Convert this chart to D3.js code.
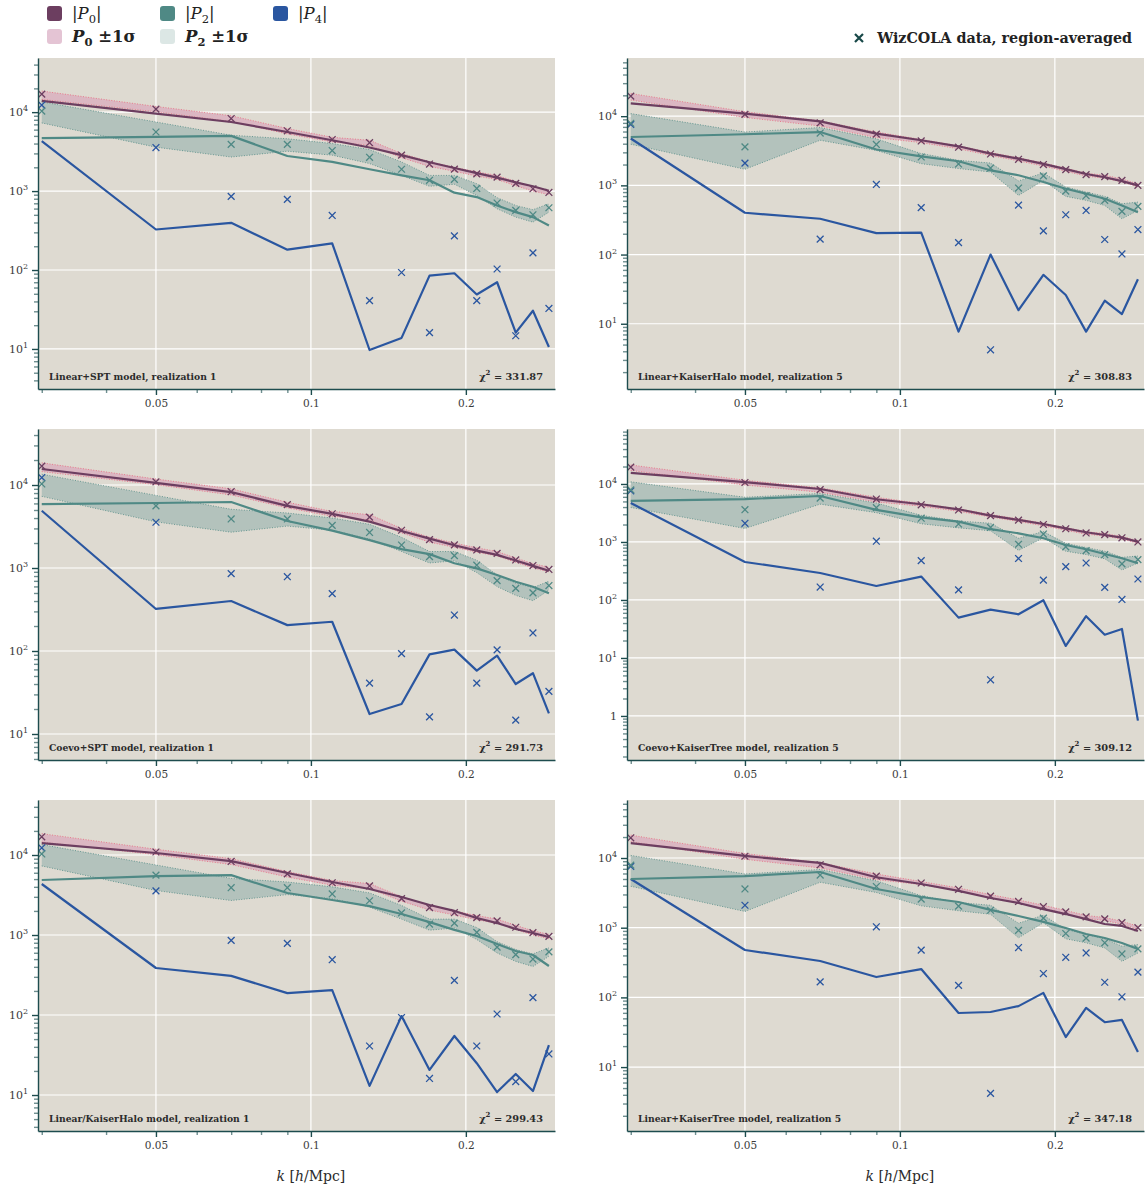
<!DOCTYPE html>
<html>
<head>
<meta charset="utf-8">
<script src="https://cdn.jsdelivr.net/npm/d3@7"></script>
<style>
  body { margin: 0; background: #ffffff; }
  svg { display: block; }
</style>
</head>
<body>
<svg id="chart" width="1148" height="1189"></svg>
<script>
// Wavenumber bins k [h/Mpc]
const kValues = [0.03, 0.05, 0.07, 0.09, 0.11, 0.13, 0.15, 0.17, 0.19, 0.21, 0.23, 0.25, 0.27, 0.29];

// WizCOLA region-averaged multipoles, realization 1
const r1P0 = [16900, 10900, 8300, 5800, 4500, 4100, 2850, 2200, 1900, 1650, 1500, 1250, 1070, 960];
const r1P2 = [10300, 5600, 3900, 3900, 3260, 2680, 1890, 1370, 1410, 1080, 705, 569, 501, 615];
const r1P4 = [12300, 3560, 857, 785, 491, 41, 93, 16.1, 271, 41, 103, 14.7, 165, 32.6];
const r1P0lo = [14500, 10100, 7600, 5300, 4200, 3800, 2650, 2050, 1780, 1550, 1400, 1170, 1000, 900];
const r1P0hi = [18500, 11800, 9000, 6200, 4800, 4400, 3000, 2350, 2000, 1750, 1580, 1320, 1130, 1020];
const r1P2lo = [7300, 3600, 2700, 3200, 2850, 2230, 1580, 1150, 1220, 880, 597, 468, 404, 541];
const r1P2hi = [13500, 7500, 5100, 4600, 4000, 3360, 2340, 1580, 1580, 1240, 825, 658, 581, 692];

// WizCOLA region-averaged multipoles, realization 5
const r5P0 = [19500, 10600, 8000, 5500, 4380, 3560, 2840, 2380, 2000, 1690, 1430, 1340, 1180, 1000];
const r5P2 = [7900, 3600, 5700, 3900, 2570, 2040, 1780, 914, 1370, 826, 709, 607, 420, 497];
const r5P4 = [7600, 2100, 167, 1030, 476, 149, 4.2, 519, 220, 376, 434, 165, 102, 230];
const r5P0lo = [17100, 9600, 7200, 4900, 4150, 3380, 2700, 2260, 1900, 1600, 1360, 1270, 1120, 950];
const r5P0hi = [21300, 11600, 8550, 5900, 4600, 3720, 2980, 2500, 2100, 1770, 1500, 1400, 1240, 1050];
const r5P2lo = [3930, 1710, 4490, 3200, 2060, 1750, 1560, 716, 1180, 693, 607, 513, 329, 434];
const r5P2hi = [10900, 5900, 6850, 4700, 2880, 2300, 2100, 1160, 1510, 946, 801, 693, 543, 573];

// Model multipoles, one set per model
const linSptP0 = [13900, 9600, 7500, 5600, 4400, 3560, 2850, 2320, 1960, 1690, 1480, 1290, 1150, 1010];
const linSptP2 = [4680, 4850, 5000, 2780, 2340, 1890, 1580, 1370, 955, 840, 658, 541, 468, 366];
const linSptP4 = [4300, 326, 396, 181, 218, 9.7, 13.8, 85, 91, 49, 70, 16.1, 30.5, 10.6];

const linKHaloP0 = [15300, 10900, 8400, 5600, 4490, 3670, 2880, 2430, 2040, 1720, 1460, 1310, 1150, 1000];
const linKHaloP2 = [5000, 5480, 5900, 3300, 2630, 2230, 1650, 1400, 1120, 895, 758, 641, 513, 410];
const linKHaloP4 = [4750, 402, 329, 204, 208, 7.7, 100, 15.7, 51, 26, 7.7, 21.5, 13.8, 44];

const coevoSptP0 = [15600, 10600, 8200, 5600, 4480, 3620, 2790, 2260, 1880, 1620, 1440, 1230, 1060, 927];
const coevoSptP2 = [5900, 6070, 6240, 3680, 2820, 2170, 1690, 1470, 1140, 991, 824, 684, 595, 495];
const coevoSptP4 = [4900, 321, 400, 205, 225, 17.4, 23, 91, 104, 58, 88, 40, 54, 17.7];

const coevoKTreeP0 = [15500, 10800, 8200, 5450, 4470, 3660, 2840, 2400, 2040, 1720, 1470, 1320, 1190, 1010];
const coevoKTreeP2 = [5100, 5500, 6200, 3570, 2660, 2240, 1660, 1410, 1160, 888, 748, 621, 523, 429];
const coevoKTreeP4 = [4700, 452, 292, 174, 253, 49.6, 68, 56.6, 99, 16.1, 52.4, 25.2, 31.6, 0.83];

const linSlashKHaloP0 = [14100, 10600, 8400, 5960, 4600, 3760, 2990, 2370, 2000, 1630, 1410, 1190, 1060, 944];
const linSlashKHaloP2 = [4870, 5460, 5600, 3350, 2740, 2300, 1830, 1450, 1160, 972, 773, 631, 562, 410];
const linSlashKHaloP4 = [4340, 387, 308, 188, 205, 13, 97, 20.6, 54.7, 25, 10.9, 18.3, 11.2, 42];

const linKTreeP0 = [16400, 10700, 8500, 5300, 4240, 3370, 2670, 2260, 1850, 1570, 1330, 1130, 1060, 897];
const linKTreeP2 = [5000, 5500, 6300, 3590, 2760, 2340, 1800, 1470, 1210, 991, 813, 712, 603, 494];
const linKTreeP4 = [5000, 479, 333, 196, 255, 59.7, 61.7, 75, 116, 27, 70.5, 44, 47.5, 16.5];

// Panel captions and goodness of fit
const panelTitles = [
  "Linear+SPT model, realization 1",
  "Linear+KaiserHalo model, realization 5",
  "Coevo+SPT model, realization 1",
  "Coevo+KaiserTree model, realization 5",
  "Linear/KaiserHalo model, realization 1",
  "Linear+KaiserTree model, realization 5"
];
const chiSquared = ["331.87", "308.83", "291.73", "309.12", "299.43", "347.18"];

// Axis ticks
const xTickValues = [0.05, 0.1, 0.2];
const xTickLabels = ["0.05", "0.1", "0.2"];
const xMinorTicks = [0.03, 0.04, 0.06, 0.07, 0.08, 0.09];

// ---------------------------------------------------------------------------
const COLORS = {
  bg: "#dedad1",
  p0: "#6c3e60",
  p2: "#4f8985",
  p4: "#2a56a0",
  p0Band: "#dbb7c2",
  p0BandEdge: "#e77b8c",
  p2Band: "#b3c2bc",
  p2BandEdge: "#4f8985",
  spine: "#1d4c4e",
  minorTick: "#6f8f90",
  tickText: "#3a3a3a",
  legendP0Band: "#e4c4d4",
  legendP2Band: "#dce7e5",
  dataMarker: "#184848"
};

const realizations = {
  r1: { p0: r1P0, p2: r1P2, p4: r1P4, p0lo: r1P0lo, p0hi: r1P0hi, p2lo: r1P2lo, p2hi: r1P2hi },
  r5: { p0: r5P0, p2: r5P2, p4: r5P4, p0lo: r5P0lo, p0hi: r5P0hi, p2lo: r5P2lo, p2hi: r5P2hi }
};

const panels = [
  { col: 0, row: 0, data: "r1", model: [linSptP0, linSptP2, linSptP4], yDomain: [3.11, 48500] },
  { col: 1, row: 0, data: "r5", model: [linKHaloP0, linKHaloP2, linKHaloP4], yDomain: [1.14, 69300] },
  { col: 0, row: 1, data: "r1", model: [coevoSptP0, coevoSptP2, coevoSptP4], yDomain: [4.86, 47300] },
  { col: 1, row: 1, data: "r5", model: [coevoKTreeP0, coevoKTreeP2, coevoKTreeP4], yDomain: [0.174, 88700] },
  { col: 0, row: 2, data: "r1", model: [linSlashKHaloP0, linSlashKHaloP2, linSlashKHaloP4], yDomain: [3.55, 48700] },
  { col: 1, row: 2, data: "r5", model: [linKTreeP0, linKTreeP2, linKTreeP4], yDomain: [1.21, 68000] }
];

const colX = [38, 627];
const rowY = [58, 429, 800];
const W = 517, H = 331;
const xDomain = [0.0295, 0.298];

const svg = d3.select("#chart");
const SERIF = "DejaVu Serif, serif";

const xMarker = s => `M${-s},${-s}L${s},${s}M${-s},${s}L${s},${-s}`;

panels.forEach((p, i) => {
  const d = realizations[p.data];
  const g = svg.append("g").attr("transform", `translate(${colX[p.col]},${rowY[p.row]})`);
  const x = d3.scaleLog().domain(xDomain).range([0, W]);
  const y = d3.scaleLog().domain(p.yDomain).range([H, 0]);

  const clipId = `clip${i}`;
  g.append("clipPath").attr("id", clipId).append("rect").attr("width", W).attr("height", H);

  g.append("rect").attr("width", W).attr("height", H).attr("fill", COLORS.bg);

  // decades inside the y range
  const lo = Math.log10(p.yDomain[0]), hi = Math.log10(p.yDomain[1]);
  const yMajors = d3.range(Math.ceil(lo), Math.floor(hi) + 1).map(n => Math.pow(10, n));
  const yMinors = [];
  for (let n = Math.floor(lo); n <= Math.floor(hi); n++) {
    for (let m = 2; m <= 9; m++) {
      const v = m * Math.pow(10, n);
      if (v >= p.yDomain[0] && v <= p.yDomain[1]) yMinors.push(v);
    }
  }

  // grid
  const grid = g.append("g");
  grid.selectAll("line.gx").data(xTickValues).join("line")
    .attr("x1", v => x(v)).attr("x2", v => x(v)).attr("y1", 0).attr("y2", H)
    .attr("stroke", "#ffffff").attr("stroke-width", 1.2);
  grid.selectAll("line.gy").data(yMajors).join("line")
    .attr("x1", 0).attr("x2", W).attr("y1", v => y(v)).attr("y2", v => y(v))
    .attr("stroke", "#ffffff").attr("stroke-width", 1.2);

  const plot = g.append("g").attr("clip-path", `url(#${clipId})`);

  const area = (loArr, hiArr) => d3.area()
    .x((_, j) => x(kValues[j]))
    .y0((_, j) => y(loArr[j]))
    .y1((_, j) => y(hiArr[j]))(kValues);
  const line = arr => d3.line().x((_, j) => x(kValues[j])).y((_, j) => y(arr[j]))(kValues);

  // ±1σ bands
  plot.append("path").attr("d", area(d.p2lo, d.p2hi)).attr("fill", COLORS.p2Band);
  [d.p2lo, d.p2hi].forEach(arr => plot.append("path").attr("d", line(arr))
    .attr("fill", "none").attr("stroke", COLORS.p2BandEdge).attr("stroke-width", 1)
    .attr("stroke-dasharray", "1,1.6").attr("opacity", 0.8));
  plot.append("path").attr("d", area(d.p0lo, d.p0hi)).attr("fill", COLORS.p0Band);
  [d.p0lo, d.p0hi].forEach(arr => plot.append("path").attr("d", line(arr))
    .attr("fill", "none").attr("stroke", COLORS.p0BandEdge).attr("stroke-width", 1)
    .attr("stroke-dasharray", "1,1.6"));

  // model curves
  [[p.model[2], COLORS.p4], [p.model[1], COLORS.p2], [p.model[0], COLORS.p0]].forEach(([arr, c]) => {
    plot.append("path").attr("d", line(arr)).attr("fill", "none")
      .attr("stroke", c).attr("stroke-width", 2.2).attr("stroke-linejoin", "round");
  });

  // data points
  [[d.p4, COLORS.p4], [d.p2, COLORS.p2], [d.p0, COLORS.p0]].forEach(([arr, c]) => {
    plot.selectAll(null).data(arr).join("path")
      .attr("transform", (v, j) => `translate(${x(kValues[j])},${y(v)})`)
      .attr("d", xMarker(3.4)).attr("stroke", c).attr("stroke-width", 1.3).attr("fill", "none");
  });

  // y axis
  const yAxisMinor = d3.axisLeft(y).tickValues(yMinors).tickSize(4).tickSizeOuter(0).tickFormat("");
  const gMinor = g.append("g").call(yAxisMinor);
  gMinor.select(".domain").remove();
  gMinor.selectAll(".tick line").attr("stroke", COLORS.minorTick).attr("stroke-width", 1.4);

  const yAxis = d3.axisLeft(y).tickValues(yMajors).tickSize(6).tickSizeOuter(0).tickPadding(4);
  const gy = g.append("g").call(yAxis);
  gy.select(".domain").attr("stroke", COLORS.spine).attr("stroke-width", 1.4);
  gy.selectAll(".tick line").attr("stroke", COLORS.spine).attr("stroke-width", 1.4);
  gy.selectAll(".tick text").each(function (v) {
    const t = d3.select(this).text("").attr("font-family", SERIF).attr("font-size", 11)
      .attr("fill", COLORS.tickText);
    const n = Math.round(Math.log10(v));
    if (n === 0) { t.text("1"); return; }
    t.append("tspan").text("10");
    t.append("tspan").attr("dy", -5).attr("font-size", 8).text(n);
  });

  // x axis
  const xAxisMinor = d3.axisBottom(x).tickValues(xMinorTicks).tickSize(4).tickSizeOuter(0).tickFormat("");
  const gxm = g.append("g").attr("transform", `translate(0,${H})`).call(xAxisMinor);
  gxm.select(".domain").remove();
  gxm.selectAll(".tick line").attr("stroke", COLORS.minorTick).attr("stroke-width", 1.4);

  const xAxis = d3.axisBottom(x).tickValues(xTickValues).tickSize(6).tickSizeOuter(0)
    .tickPadding(5).tickFormat((v, j) => xTickLabels[j]);
  const gx = g.append("g").attr("transform", `translate(0,${H})`).call(xAxis);
  gx.select(".domain").attr("stroke", COLORS.spine).attr("stroke-width", 1.4);
  gx.selectAll(".tick line").attr("stroke", COLORS.spine).attr("stroke-width", 1.4);
  gx.selectAll(".tick text").attr("font-family", SERIF).attr("font-size", 10.5).attr("fill", COLORS.tickText);

  // captions
  g.append("text").attr("x", 11).attr("y", H - 9)
    .attr("font-family", SERIF).attr("font-weight", "bold").attr("font-size", 9.2)
    .attr("fill", "#2b2b2b").text(panelTitles[i]);
  const chi = g.append("text").attr("x", W - 12).attr("y", H - 9).attr("text-anchor", "end")
    .attr("font-family", SERIF).attr("font-weight", "bold").attr("font-size", 9.8)
    .attr("fill", "#2b2b2b");
  chi.append("tspan").text("χ");
  chi.append("tspan").attr("dy", -5).attr("font-size", 7).text("2");
  chi.append("tspan").attr("dy", 5).text(` = ${chiSquared[i]}`);

  // x axis title on bottom row
  if (p.row === 2) {
    const xt = svg.append("text").attr("x", colX[p.col] + x(0.1)).attr("y", rowY[p.row] + H + 50)
      .attr("text-anchor", "middle").attr("font-family", SERIF).attr("font-size", 14)
      .attr("fill", "#2b2b2b");
    xt.append("tspan").attr("font-style", "italic").text("k");
    xt.append("tspan").text(" [");
    xt.append("tspan").attr("font-style", "italic").text("h");
    xt.append("tspan").text("/Mpc]");
  }
});

// legend (top left)
const legendItems = [
  { col: 0, row: 0, color: COLORS.p0, sym: "P", sub: "0", abs: true },
  { col: 1, row: 0, color: COLORS.p2, sym: "P", sub: "2", abs: true },
  { col: 2, row: 0, color: COLORS.p4, sym: "P", sub: "4", abs: true },
  { col: 0, row: 1, color: COLORS.legendP0Band, sym: "P", sub: "0", abs: false },
  { col: 1, row: 1, color: COLORS.legendP2Band, sym: "P", sub: "2", abs: false }
];
const legend = svg.append("g");
legendItems.forEach(it => {
  const lx = 47 + it.col * 113, ly = 6 + it.row * 23;
  legend.append("rect").attr("x", lx).attr("y", ly).attr("width", 15).attr("height", 15)
    .attr("rx", 3).attr("fill", it.color);
  const t = legend.append("text").attr("x", lx + 25).attr("y", ly + 13)
    .attr("font-family", SERIF).attr("font-size", 16.5).attr("fill", "#222");
  if (it.abs) {
    t.append("tspan").text("|");
    t.append("tspan").attr("font-style", "italic").text(it.sym);
    t.append("tspan").attr("dy", 4).attr("font-size", 11.5).text(it.sub);
    t.append("tspan").attr("dy", -4).text("|");
  } else {
    t.attr("font-weight", "bold");
    t.append("tspan").attr("font-style", "italic").text(it.sym);
    t.append("tspan").attr("dy", 4).attr("font-size", 11.5).text(it.sub);
    t.append("tspan").attr("dy", -4).text(" ±1σ");
  }
});

// data marker legend (top right)
svg.append("path").attr("transform", "translate(859,38)").attr("d", xMarker(4))
  .attr("stroke", COLORS.dataMarker).attr("stroke-width", 2.2).attr("fill", "none");
svg.append("text").attr("x", 1132).attr("y", 43).attr("text-anchor", "end")
  .attr("font-family", SERIF).attr("font-weight", "bold").attr("font-size", 14.3)
  .attr("fill", "#222").text("WizCOLA data, region-averaged");
</script>
</body>
</html>
